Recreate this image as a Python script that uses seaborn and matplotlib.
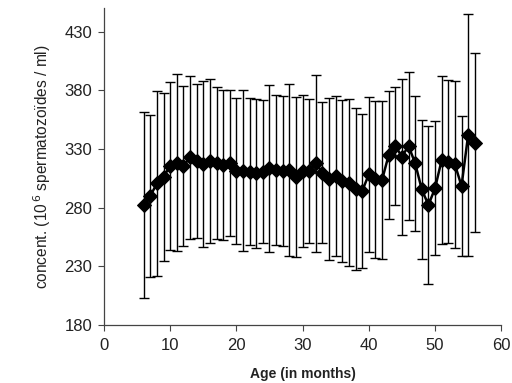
import matplotlib
matplotlib.use("Agg")
import matplotlib.pyplot as plt
import seaborn as sns
import pandas as pd

age_months = list(range(6, 57))
mean_conc = [282.3, 290.0, 300.7, 306.4, 315.5, 318.4, 315.5, 322.9, 320.0, 317.0,
             320.0, 317.8, 316.4, 318.4, 311.5, 311.5, 310.7, 309.3, 310.7, 313.5,
             312.0, 311.5, 312.0, 305.9, 311.5, 311.5, 317.8, 309.8, 304.1, 307.0,
             302.7, 301.3, 295.6, 294.2, 308.4, 304.1, 303.6, 324.9, 332.6, 323.5,
             332.6, 317.8, 295.6, 282.3, 296.5, 320.6, 319.2, 316.9, 298.5, 341.9,
             335.4]
sd_conc = [79.3, 68.8, 78.8, 71.6, 71.7, 75.3, 67.9, 69.2, 65.4, 70.5,
           69.9, 64.8, 64.2, 62.2, 62.2, 68.6, 62.8, 63.5, 61.1, 70.9,
           63.9, 63.9, 73.5, 68.2, 64.8, 61.4, 75.2, 60.1, 68.9, 68.2,
           68.8, 71.1, 68.9, 65.6, 65.7, 66.6, 67.3, 54.3, 49.9, 66.4,
           63.1, 57.5, 59.2, 67.2, 57.1, 71.3, 69.6, 70.8, 59.3, 103.0,
           76.5]
x_ticks = [0, 10, 20, 30, 40, 50, 60]
y_ticks = [180, 230, 280, 330, 380, 430]

df = pd.DataFrame({"age": age_months, "conc": mean_conc, "sd": sd_conc})

sns.set_style("ticks")
plt.rcParams['font.family'] = ['Liberation Sans', 'DejaVu Sans']

fig = plt.figure(figsize=(5.12, 3.83), dpi=100)
ax = fig.add_axes([0.203, 0.151, 0.776, 0.828])

ax.errorbar(df["age"], df["conc"], yerr=df["sd"], fmt="none", ecolor="black",
            elinewidth=1.0, capsize=3.5, capthick=1.0, zorder=2)
sns.lineplot(data=df, x="age", y="conc", ax=ax, color="black", linewidth=1.8,
             marker="D", markersize=7, markeredgecolor="black",
             markerfacecolor="black", zorder=3)

ax.set_xlim(0, 60)
ax.set_ylim(180, 450)
ax.set_xticks(x_ticks)
ax.set_yticks(y_ticks)
ax.tick_params(axis="both", labelsize=12, length=4.5, width=0.8, color="#444444",
               direction="out", labelcolor="#222222")
ax.tick_params(axis="x", pad=5)
ax.tick_params(axis="y", pad=4)
for s in ["top", "right"]:
    ax.spines[s].set_visible(False)
for s in ["left", "bottom"]:
    ax.spines[s].set_color("#444444")
    ax.spines[s].set_linewidth(0.9)

ax.set_xlabel("Age (in months)", fontsize=10, fontweight="bold", labelpad=10,
              color="#222222")
ax.set_ylabel("concent. (10$^{\\,6}$ spermatozoïdes / ml)", fontsize=11.2, labelpad=8,
              color="#222222")

fig.savefig("out.png", dpi=100)
